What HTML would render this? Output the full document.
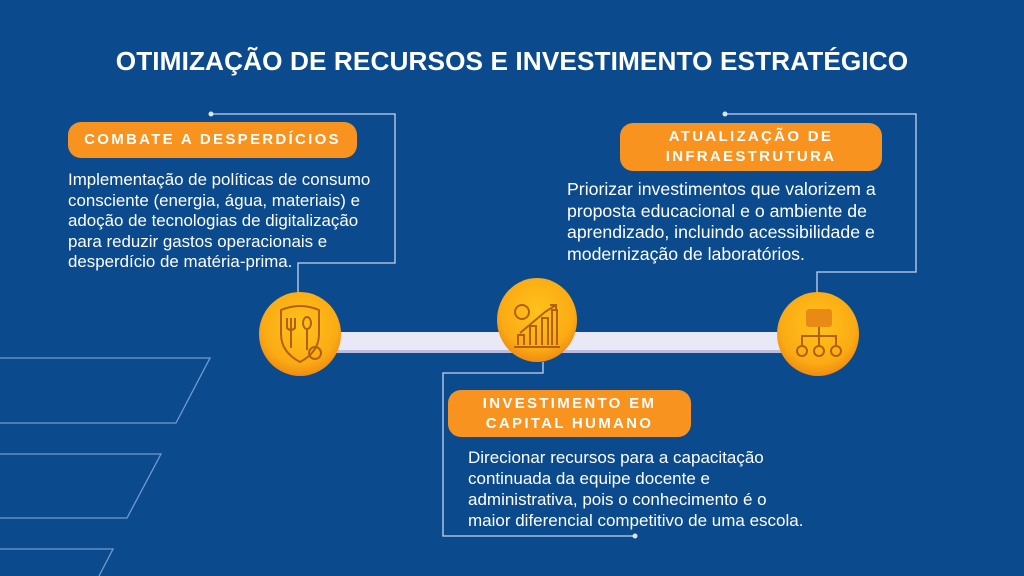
<!DOCTYPE html>
<html><head><meta charset="utf-8"><style>
*{margin:0;padding:0;box-sizing:border-box}
body{width:1024px;height:576px;overflow:hidden;background:#0b4a8d;font-family:"Liberation Sans",sans-serif;position:relative;color:#fff}
.a{position:absolute}
.title{left:0;width:1024px;top:46px;text-align:center;font-weight:bold;font-size:26.2px;letter-spacing:0.1px}
.pill{background:#f7931e;border-radius:13px;color:#fff;font-weight:bold;letter-spacing:2.3px;font-size:15px;text-align:center;line-height:20px}
.body{font-size:16.9px;line-height:20.6px;color:#fff}
</style></head><body>
<svg class="a" style="left:0;top:0" width="1024" height="576">
<g fill="none" stroke="#6f9bd0" stroke-width="1.3">
<path d="M0 358 H210 L176 423 H0"/>
<path d="M0 454 H161 L127 518 H0"/>
<path d="M0 549 H113 L99 576"/>
</g>
<g fill="none" stroke="#c5d3ee" stroke-width="1.3">
<path d="M211 114 H395 V263 H298 V295"/>
<path d="M543 362 V373 H443 V536 H635"/>
<path d="M725 114 H916 V272 H817 V295"/>
</g>
<g fill="#dbe4f5"><circle cx="211" cy="114" r="2.5"/><circle cx="635" cy="536" r="2.5"/><circle cx="725" cy="114" r="2.5"/></g>
<rect x="300" y="332" width="518" height="20" fill="#e9e8f6"/>
<rect x="300" y="350" width="518" height="3" fill="#b9bde0"/>
<defs><radialGradient id="g" cx="50%" cy="40%" r="60%"><stop offset="0" stop-color="#ffc21a"/><stop offset="0.75" stop-color="#fbab14"/><stop offset="1" stop-color="#f08c10"/></radialGradient></defs>
<ellipse cx="300" cy="334" rx="41" ry="42" fill="url(#g)"/>
<ellipse cx="537" cy="320" rx="40" ry="42" fill="url(#g)"/>
<ellipse cx="818" cy="334" rx="41" ry="42" fill="url(#g)"/>
<g fill="none" stroke="#b3600e" stroke-width="2">
<path d="M281 310 Q300 302 319 310 V334 Q319 352 300 362 Q281 352 281 334 Z"/>
<path d="M291 318 V348 M287 318 V328 Q291 332 295 328 V318"/>
<ellipse cx="307" cy="323" rx="4" ry="6"/><path d="M307 329 V350"/>
<circle cx="315" cy="353" r="6"/>
<circle cx="522" cy="312" r="7"/>
<path d="M520 333 L545 312 L556 305 M550 305 H556 V311"/>
<path d="M518 345 V335 H524 V345 M530 345 V326 H536 V345 M542 345 V318 H548 V345 M552 345 V310 H557 V345 M514 347 H560"/>
<rect x="806" y="309" width="26" height="18" rx="3" fill="#e88a14" stroke="none"/>
<path d="M819 327 V336 M802 345 V336 H836 V345 M819 336 V345"/>
<circle cx="802" cy="351" r="5"/><circle cx="819" cy="351" r="5"/><circle cx="836" cy="351" r="5"/>
</g>
</svg>
<div class="a title">OTIMIZAÇÃO DE RECURSOS E INVESTIMENTO ESTRATÉGICO</div>
<div class="a pill" style="left:68px;top:122px;width:289px;height:36px;padding-top:8px">COMBATE A DESPERDÍCIOS</div>
<div class="a body" style="left:68px;top:170px">Implementação de políticas de consumo<br>consciente (energia, água, materiais) e<br>adoção de tecnologias de digitalização<br>para reduzir gastos operacionais e<br>desperdício de matéria-prima.</div>
<div class="a pill" style="left:620px;top:123px;width:262px;height:48px;padding-top:4px">ATUALIZAÇÃO DE<br>INFRAESTRUTURA</div>
<div class="a body" style="left:567px;top:179px;font-size:17.7px;line-height:21.7px">Priorizar investimentos que valorizem a<br>proposta educacional e o ambiente de<br>aprendizado, incluindo acessibilidade e<br>modernização de laboratórios.</div>
<div class="a pill" style="left:448px;top:390px;width:243px;height:47px;padding-top:4px">INVESTIMENTO EM<br>CAPITAL HUMANO</div>
<div class="a body" style="left:468px;top:447px;font-size:17px;line-height:21px">Direcionar recursos para a capacitação<br>continuada da equipe docente e<br>administrativa, pois o conhecimento é o<br>maior diferencial competitivo de uma escola.</div>
</body></html>
